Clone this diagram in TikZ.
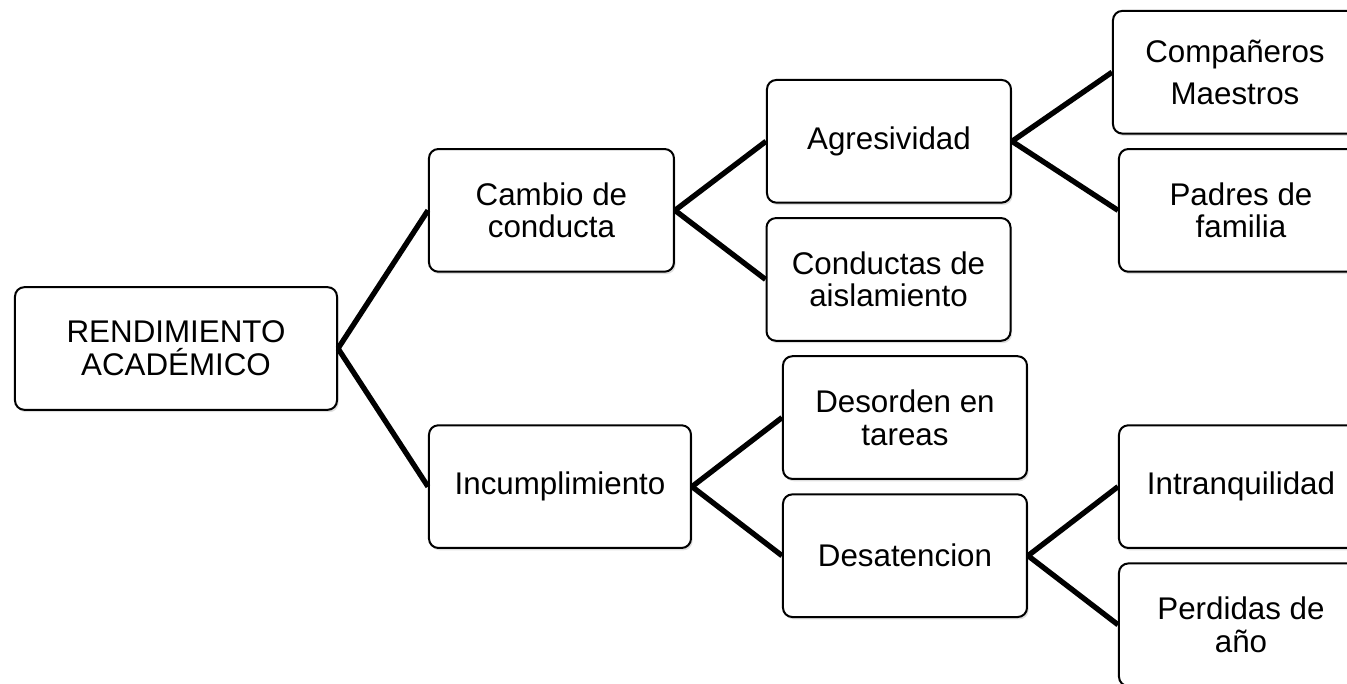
\documentclass[tikz,border=0pt]{standalone}
\usepackage{fontspec}
\setmainfont{Liberation Sans}
\usetikzlibrary{matrix, shadows}

\begin{document}
\begin{tikzpicture}[x=0.75pt, y=-0.75pt,
  box/.style={draw, line width=1.5pt, rounded corners=7pt, fill=white,
    minimum width=183pt, minimum height=92pt, align=center, inner sep=2pt,
    font=\fontsize{23.5pt}{24.5pt}\selectfont,
    drop shadow={opacity=0.25, shadow xshift=1.2pt, shadow yshift=-1.8pt}},
  link/.style={line width=4pt}]
\useasboundingbox (0,0) rectangle (1347,684);
\clip (0,0) rectangle (1347,684);
\matrix (m) [matrix of nodes, matrix anchor=a1.center,
  column sep={265.5pt,between origins}, row sep={51.8pt,between origins},
  nodes={box, anchor=center}] at (176,348.5) {
 & & & \node[xshift=-2.25pt](d1){Compañeros\\[7pt]Maestros}; \\
 & & \node[xshift=3.75pt](c1){Agresividad}; & \\
 & \node[xshift=16.1pt, minimum width=183.75pt](b1){Cambio de\\conducta}; & & \node[xshift=2.25pt](d2){Padres de\\familia}; \\
 & & \node[xshift=3.4pt](c2){Conductas de\\aislamiento}; & \\
\node[minimum width=241.5pt](a1){RENDIMIENTO\\ACADÉMICO}; & & & \\
 & & \node[xshift=15.75pt](c3){Desorden en\\tareas}; & \\
 & \node[xshift=22.5pt, minimum width=196.5pt](b2){Incumplimiento}; & & \node[xshift=2.25pt](d3){Intranquilidad}; \\
 & & \node[xshift=15.75pt](c4){Desatencion}; & \\
 & & & \node[xshift=2.25pt](d4){Perdidas de\\año}; \\
};
\draw[link] (a1.east) -- (b1.west);
\draw[link] (a1.east) -- (b2.west);
\draw[link] (b1.east) -- (c1.west);
\draw[link] (b1.east) -- (c2.west);
\draw[link] (c1.east) -- (d1.west);
\draw[link] (c1.east) -- (d2.west);
\draw[link] (b2.east) -- (c3.west);
\draw[link] (b2.east) -- (c4.west);
\draw[link] (c4.east) -- (d3.west);
\draw[link] (c4.east) -- (d4.west);
\end{tikzpicture}
\end{document}
